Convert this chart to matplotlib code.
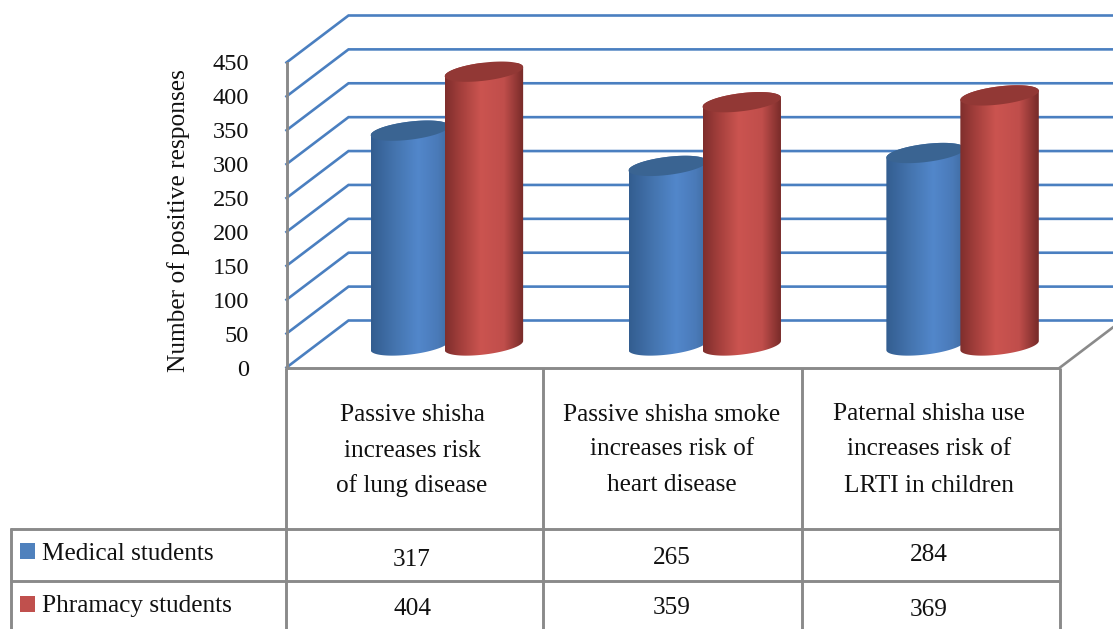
import numpy as np
import matplotlib
matplotlib.use("Agg")
import matplotlib.pyplot as plt
from matplotlib.colors import LinearSegmentedColormap
from matplotlib.patches import Polygon

categories = [["Passive shisha", "increases risk", "of lung disease"],
              ["Passive shisha smoke", "increases risk of", "heart disease"],
              ["Paternal shisha use", "increases risk of", "LRTI in children"]]
series_names = ["Medical students", "Phramacy students"]
medical = [317, 265, 284]
pharmacy = [404, 359, 369]
y_ticks = [0, 50, 100, 150, 200, 250, 300, 350, 400, 450]
y_label = "Number of positive responses"

W, H = 1113, 629
plt.rcParams["font.family"] = ["Liberation Serif", "DejaVu Serif"]
fig = plt.figure(figsize=(W / 100, H / 100), dpi=100)
fig.patch.set_facecolor("white")

LEFT, RIGHT, Y0, Y450 = 286.5, 1060, 367.5, 62.5
ax = fig.add_axes([LEFT / W, 1 - Y0 / H, (RIGHT - LEFT) / W, (Y0 - Y450) / H])
ax.set_xlim(0, 3)
ax.set_ylim(0, 450)
ax.patch.set_alpha(0)
for s in ax.spines.values():
    s.set_visible(False)

PX_X = (RIGHT - LEFT) / 3
PX_Y = (Y0 - Y450) / 450
DEPTH_X, DEPTH_Y = 62 / PX_X, 47 / PX_Y
GRID, GREY = "#4a7fc0", "#8a8a8a"

ax.set_xticks([])
ax.set_yticks(y_ticks)
ax.tick_params(axis="y", length=0, pad=27, labelsize=17.6, labelcolor="#111111")

for v in y_ticks:
    ax.plot([0, DEPTH_X, 3 + DEPTH_X], [v, v + DEPTH_Y, v + DEPTH_Y], color=GRID,
            lw=1.9, clip_on=False, zorder=1, solid_joinstyle="miter")
ax.plot([0, 0], [0, 450], color=GREY, lw=2.1, clip_on=False, zorder=2)
ax.plot([3, 3 + DEPTH_X], [0, DEPTH_Y], color=GREY, lw=1.9, clip_on=False, zorder=2)

blue_cmap = LinearSegmentedColormap.from_list("b", [(0, "#335d90"), (0.3, "#4474ae"), (0.6, "#5287cb"), (0.85, "#4a7ab8"), (1, "#3e6aa0")])
red_cmap = LinearSegmentedColormap.from_list("r", [(0, "#7f2e2c"), (0.2, "#a43f3c"), (0.45, "#cb5450"), (0.75, "#c04e4b"), (1, "#762a28")])
CAP = {"b": "#3a6492", "r": "#923835"}

A, B, TILT = 39.5, 9.0, np.radians(7.0)


def ellipse(cx, base, ts):
    """Tilted ellipse around (cx, base) in data units."""
    ex = A * np.cos(ts) * np.cos(TILT) - B * np.sin(ts) * np.sin(TILT)
    ey = A * np.cos(ts) * np.sin(TILT) + B * np.sin(ts) * np.cos(TILT)
    return cx + ex / PX_X, base + ey / PX_Y


def cylinder(cx, value, cmap, cap, z):
    base = DEPTH_Y / 2 - 1.5 / PX_Y
    t_r = np.arctan2(-B * np.sin(TILT), A * np.cos(TILT))
    t_l = t_r + np.pi
    lower = np.linspace(t_l, t_r + 2 * np.pi, 60)
    upper = np.linspace(t_r, t_l, 60)
    x1, y1 = ellipse(cx, base, lower)
    x2, y2 = ellipse(cx, base + value, upper)
    body = Polygon(np.column_stack([np.r_[x1, x2], np.r_[y1, y2]]), closed=True,
                   fc="none", ec="none", transform=ax.transData)
    ax.add_patch(body)
    grad = np.linspace(0, 1, 200).reshape(1, -1)
    im = ax.imshow(grad, cmap=cmap, aspect="auto", zorder=z, interpolation="bilinear",
                   extent=[x1.min(), x1.max(), 0, base + value + 20])
    im.set_clip_path(body)
    cx_t, cy_t = ellipse(cx, base + value, np.linspace(0, 2 * np.pi, 90))
    ax.add_patch(Polygon(np.column_stack([cx_t, cy_t]), closed=True, fc=cap, ec="none",
                         zorder=z + 0.1, clip_on=False))


for i, (m, p) in enumerate(zip(medical, pharmacy)):
    c = i + 0.5 + DEPTH_X / 2
    cylinder(c - 36.5 / PX_X, m, blue_cmap, CAP["b"], 3 + i)
    cylinder(c + 37.5 / PX_X, p, red_cmap, CAP["r"], 3.5 + i)
ax.set_xlim(0, 3)
ax.set_ylim(0, 450)

# Table and labels, laid out in pixel space
tab = fig.add_axes([0, 0, 1, 1])
tab.set_xlim(0, W)
tab.set_ylim(H, 0)
tab.axis("off")
tab.patch.set_alpha(0)
cols = [286, 543, 802, 1060]
for x in cols:
    tab.plot([x, x], [367.5, H], color=GREY, lw=2.1, solid_capstyle="butt")
tab.plot([10.5, 10.5], [528, H], color=GREY, lw=2.1, solid_capstyle="butt")
tab.plot([285, 1060], [368, 368], color=GREY, lw=2.1, solid_capstyle="butt")
for y in (528.5, 581):
    tab.plot([9.5, 1061], [y, y], color=GREY, lw=2.1, solid_capstyle="butt")

TXT = "#111111"
FS = 18.2
centres = [412, 672, 929]
line_y = [[415, 451, 486], [415, 449, 485], [414, 449, 486]]
for c, lines, ys in zip(centres, categories, line_y):
    for s, y in zip(lines, ys):
        tab.text(c, y, s, ha="center", va="center", fontsize=FS, color=TXT)
for c, v, y in zip(centres, medical, [560, 558, 555]):
    tab.text(c, y, str(v), ha="center", va="center", fontsize=FS, color=TXT)
for c, v, y in zip(centres, pharmacy, [609, 608, 610]):
    tab.text(c, y, str(v), ha="center", va="center", fontsize=FS, color=TXT)
for name, col, y, ty in zip(series_names, ["#4f81bd", "#c0504d"], [543, 596], [554, 606]):
    tab.add_patch(plt.Rectangle((19.5, y), 15.5, 16, fc=col, ec="none"))
    tab.text(42, ty, name, ha="left", va="center", fontsize=FS, color=TXT)
tab.text(179, 221, y_label, rotation=90, ha="center", va="center", fontsize=18.3, color=TXT)

fig.savefig("out.png", dpi=100, facecolor="white")
